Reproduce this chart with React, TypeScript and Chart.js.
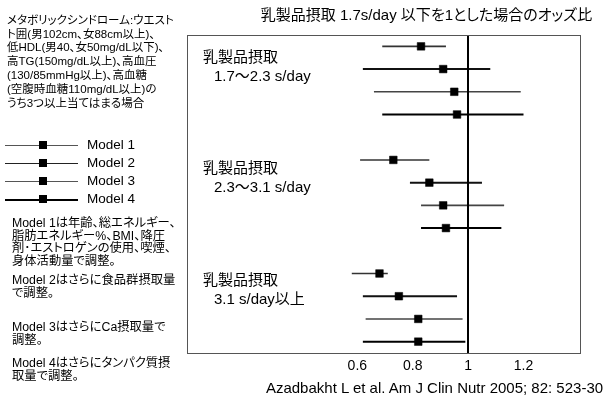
import React, { useEffect, useRef } from "react";
import { Chart, registerables } from "chart.js";

Chart.register(...registerables);

// ---------- data ----------
const MODELS = ["Model 1", "Model 2", "Model 3", "Model 4"];
const GROUP_LINE1 = ["乳製品摂取", "乳製品摂取", "乳製品摂取"];
const GROUP_LINE2 = ["1.7〜2.3 s/day", "2.3〜3.1 s/day", "3.1 s/day以上"];

// odds ratios per group (1.7–2.3, 2.3–3.1, >=3.1)
const OR_M1 = [0.83, 0.73, 0.68];
const OR_M2 = [0.91, 0.86, 0.75];
const OR_M3 = [0.95, 0.91, 0.82];
const OR_M4 = [0.96, 0.92, 0.82];
// lower CI
const LO_M1 = [0.69, 0.61, 0.58];
const LO_M2 = [0.62, 0.79, 0.62];
const LO_M3 = [0.66, 0.83, 0.63];
const LO_M4 = [0.69, 0.83, 0.62];
// upper CI
const HI_M1 = [0.92, 0.86, 0.71];
const HI_M2 = [1.08, 1.05, 0.96];
const HI_M3 = [1.19, 1.13, 0.98];
const HI_M4 = [1.2, 1.12, 0.99];

const X_TICKS = [0.6, 0.8, 1, 1.2];
const X_MIN = -0.015;
const X_MAX = 1.404;
const REF_VALUE = 1;

const TITLE = "乳製品摂取 1.7s/day 以下を1とした場合のオッズ比";
const SOURCE = "Azadbakht L et al. Am J Clin Nutr 2005; 82: 523-30";
const DEF_LINES = [
  "メタボリックシンドローム:ウエスト",
  "ト囲(男102cm、女88cm以上)、",
  "低HDL(男40、女50mg/dL以下)、",
  "高TG(150mg/dL以上)、高血圧",
  "(130/85mmHg以上)、高血糖",
  "(空腹時血糖110mg/dL以上)の",
  "うち3つ以上当てはまる場合",
];
const NOTES = [
  ["Model 1は年齢、総エネルギー、", "脂肪エネルギー%、BMI、降圧", "剤･エストロゲンの使用、喫煙、", "身体活動量で調整。"],
  ["Model 2はさらに食品群摂取量", "で調整。"],
  ["Model 3はさらにCa摂取量で", "調整。"],
  ["Model 4はさらにタンパク質摂", "取量で調整。"],
];

const OR = [OR_M1, OR_M2, OR_M3, OR_M4];
const LO = [LO_M1, LO_M2, LO_M3, LO_M4];
const HI = [HI_M1, HI_M2, HI_M3, HI_M4];

// ---------- styles ----------
const FONT = "'Liberation Sans', Arial, 'Noto Sans CJK JP', sans-serif";
const CI_COLORS = ["#333", "#111", "#444", "#000"];
const CI_WIDTHS = [1.6, 2, 1.6, 2];

const rowIndex = (g: number, m: number) => g * 5 + m;

export default function App() {
  const ref = useRef<HTMLCanvasElement | null>(null);

  useEffect(() => {
    if (!ref.current) return;

    const ciPlugin = {
      id: "ciPlugin",
      beforeDatasetsDraw(chart: any) {
        const { ctx, chartArea } = chart;
        const xs = chart.scales.x;
        const ys = chart.scales.y;
        ctx.save();
        // CI lines
        for (let m = 0; m < MODELS.length; m++) {
          for (let g = 0; g < GROUP_LINE1.length; g++) {
            const y = ys.getPixelForValue(rowIndex(g, m));
            ctx.beginPath();
            ctx.strokeStyle = CI_COLORS[m];
            ctx.lineWidth = CI_WIDTHS[m];
            ctx.moveTo(xs.getPixelForValue(LO[m][g]), y);
            ctx.lineTo(xs.getPixelForValue(HI[m][g]), y);
            ctx.stroke();
          }
        }
        // reference line
        const xr = Math.round(xs.getPixelForValue(REF_VALUE));
        ctx.beginPath();
        ctx.strokeStyle = "#000";
        ctx.lineWidth = 2;
        ctx.moveTo(xr, chartArea.top);
        ctx.lineTo(xr, chartArea.bottom);
        ctx.stroke();
        // box
        ctx.strokeStyle = "#555";
        ctx.lineWidth = 1;
        ctx.strokeRect(
          Math.round(chartArea.left) + 0.5,
          Math.round(chartArea.top) + 0.5,
          Math.round(chartArea.right - chartArea.left),
          Math.round(chartArea.bottom - chartArea.top)
        );
        // group labels
        ctx.fillStyle = "#000";
        ctx.font = "15px " + FONT;
        ctx.textBaseline = "middle";
        const offs = [12, 9, 7];
        for (let g = 0; g < GROUP_LINE1.length; g++) {
          const y0 = ys.getPixelForValue(rowIndex(g, 0));
          ctx.fillText(GROUP_LINE1[g], chartArea.left + 16, y0 + offs[g]);
          ctx.fillText(GROUP_LINE2[g], chartArea.left + 27, y0 + offs[g] + 19);
        }
        ctx.restore();
      },
    };

    const chart = new Chart(ref.current, {
      type: "scatter",
      data: {
        datasets: MODELS.map((name, m) => ({
          label: name,
          data: OR[m].map((v, g) => ({ x: v, y: rowIndex(g, m) })),
          pointStyle: "rect",
          pointRadius: 5.4,
          pointHoverRadius: 5.4,
          backgroundColor: "#000",
          borderColor: "#000",
          borderWidth: 0.5,
          showLine: false,
        })),
      },
      options: {
        responsive: false,
        animation: false,
        devicePixelRatio: 1,
        layout: { padding: { left: 187, right: 24, top: 35, bottom: 0 } },
        plugins: {
          legend: { display: false },
          tooltip: { enabled: false },
          title: { display: false },
        },
        scales: {
          x: {
            type: "linear",
            min: X_MIN,
            max: X_MAX,
            grid: { display: false, drawTicks: false },
            border: { display: false },
            afterBuildTicks: (s: any) => {
              s.ticks = X_TICKS.map((v) => ({ value: v }));
            },
            afterFit: (s: any) => {
              s.height = 50;
            },
            ticks: {
              autoSkip: false,
              maxRotation: 0,
              padding: 5,
              color: "#000",
              font: { size: 14, family: FONT },
              callback: (v: any) => String(v),
            },
          },
          y: {
            type: "linear",
            display: false,
            min: -0.5,
            max: 13.5,
            reverse: true,
          },
        },
      },
      plugins: [ciPlugin],
    } as any);

    return () => chart.destroy();
  }, []);

  const legendLine = ["1px solid #555", "1.5px solid #222", "1px solid #555", "2px solid #000"];

  return (
    <div
      style={{
        position: "fixed",
        left: 0,
        top: 0,
        width: 604,
        height: 403,
        background: "#fff",
        fontFamily: FONT,
        color: "#000",
        fontFeatureSettings: '"palt"',
      }}
    >
      <canvas ref={ref} width={604} height={403} style={{ position: "absolute", left: 0, top: 0, width: 604, height: 403 }} />
      <div
        style={{
          position: "absolute",
          left: 226,
          width: 401,
          top: 6,
          lineHeight: "18px",
          fontSize: 15,
          textAlign: "center",
          whiteSpace: "nowrap",
        }}
      >
        {TITLE}
      </div>
      <div
        style={{
          position: "absolute",
          left: 234,
          width: 401,
          top: 379,
          lineHeight: "18px",
          fontSize: 15,
          textAlign: "center",
          whiteSpace: "nowrap",
        }}
      >
        {SOURCE}
      </div>
      <div
        style={{
          position: "absolute",
          left: 7,
          top: 13.8,
          fontSize: 11.5,
          lineHeight: "13.8px",
          whiteSpace: "nowrap",
        }}
      >
        {DEF_LINES.map((l, i) => (
          <div key={i}>{l}</div>
        ))}
      </div>
      {MODELS.map((name, i) => (
        <div key={name} style={{ position: "absolute", left: 0, top: 136 + 18 * i, width: 180, height: 18 }}>
          <div style={{ position: "absolute", left: 5, width: 73, top: 9, borderTop: legendLine[i] }} />
          <div style={{ position: "absolute", left: 39, top: 5, width: 8, height: 8, background: "#000" }} />
          <div style={{ position: "absolute", left: 87, top: 0, fontSize: 13.5, lineHeight: "18px", whiteSpace: "nowrap" }}>
            {name}
          </div>
        </div>
      ))}
      {NOTES.map((para, p) => (
        <div
          key={p}
          style={{
            position: "absolute",
            left: 12,
            top: [217, 274, 321, 357][p],
            fontSize: 12.3,
            lineHeight: "12.7px",
            whiteSpace: "nowrap",
          }}
        >
          {para.map((l, i) => (
            <div key={i}>{l}</div>
          ))}
        </div>
      ))}
    </div>
  );
}
